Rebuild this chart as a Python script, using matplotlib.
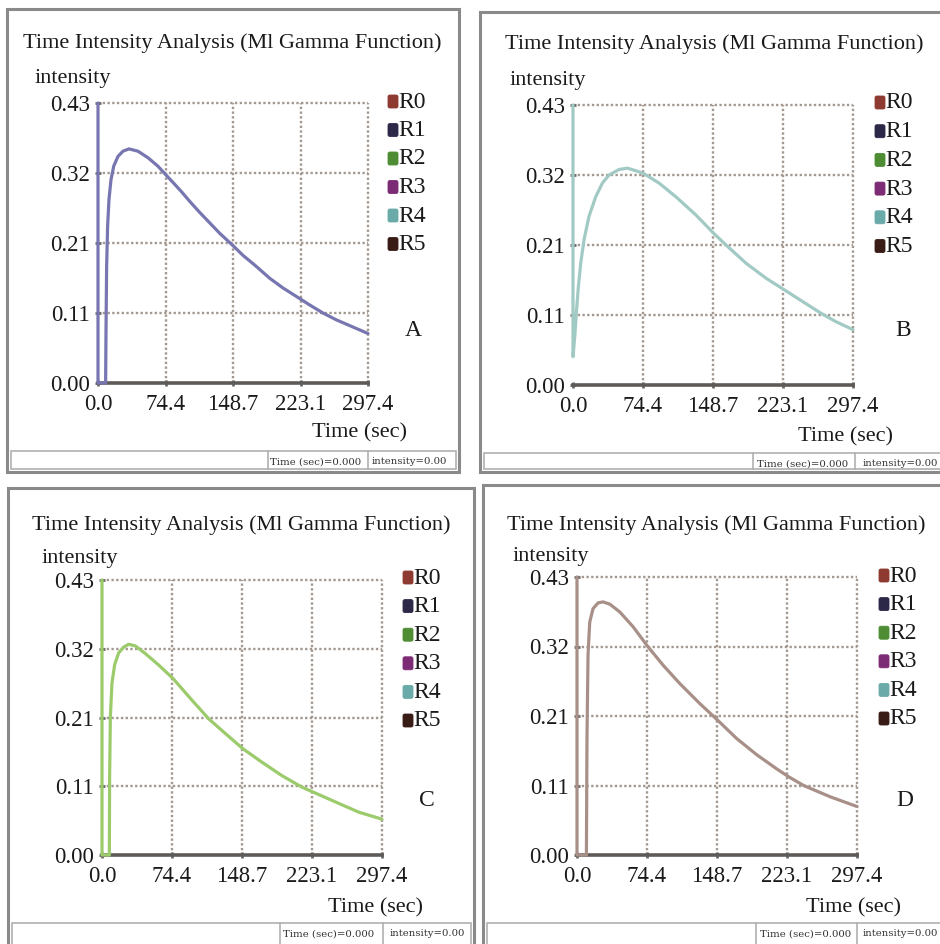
import matplotlib
matplotlib.use("Agg")
import matplotlib.pyplot as plt
from matplotlib.patches import Rectangle, FancyBboxPatch
import numpy as np

W, H = 940, 944

# ---------------- data ----------------
title = "Time Intensity Analysis (Ml Gamma Function)"
y_label = "intensity"
x_label = "Time (sec)"
x_tick_labels = ["0.0", "74.4", "148.7", "223.1", "297.4"]
y_tick_labels = ["0.00", "0.11", "0.21", "0.32", "0.43"]
x_max = 297.4
y_max = 0.43
legend_names = ["R0", "R1", "R2", "R3", "R4", "R5"]
legend_colors = ["#8e3a30", "#2c2848", "#4f8d34", "#7c2c74", "#6aaaa8", "#3a1c16"]
status_texts = ["Time (sec)=0.000", "intensity=0.00"]
panel_letters = ["A", "B", "C", "D"]

time_A = [0, 0, 8.4, 8.8, 9.5, 10.6, 12.1, 14.3, 17.3, 22, 27.5, 34.1, 44, 55, 66, 74.5,
          82.6, 91.8, 101, 112, 123, 134, 149.4, 159.7, 174.4, 189, 203.7, 218.4, 233,
          247.8, 262.5, 280.8, 297.4]
intensity_A = [0.43, 0, 0, 0.077, 0.179, 0.241, 0.282, 0.312, 0.333, 0.348, 0.356, 0.3595,
               0.356, 0.346, 0.333, 0.320, 0.308, 0.294, 0.279, 0.262, 0.246, 0.230,
               0.210, 0.196, 0.179, 0.161, 0.146, 0.133, 0.120, 0.1075, 0.097, 0.086,
               0.076]

time_B = [0, 0, 1, 2.1, 3.5, 5.7, 8.2, 11.7, 17, 24.1, 31.2, 38.3, 49, 57.8, 66.7, 74.9,
          91.5, 109.3, 130.6, 149.4, 162.5, 183.8, 205, 224.6, 244.1, 263.6, 279.6, 297.4]
intensity_B = [0.43, 0.0435, 0.06, 0.079, 0.110, 0.151, 0.187, 0.223, 0.259, 0.289, 0.310,
               0.3225, 0.331, 0.333, 0.329, 0.325, 0.310, 0.289, 0.261, 0.233, 0.215,
               0.187, 0.164, 0.146, 0.128, 0.110, 0.097, 0.085]

time_C = [0, 0, 7.8, 8.1, 8.9, 10.6, 13.5, 17.7, 23, 28.3, 35.4, 46, 60.2, 75.4, 95.6,
          113.3, 131, 149.8, 170, 191.2, 212.5, 224.9, 247.9, 272.7, 297.4]
intensity_C = [0.43, 0, 0, 0.123, 0.217, 0.269, 0.298, 0.316, 0.325, 0.3295, 0.327, 0.315,
               0.297, 0.276, 0.242, 0.213, 0.190, 0.166, 0.145, 0.124, 0.106, 0.098,
               0.083, 0.067, 0.056]

time_D = [0, 0, 10, 10.6, 11.7, 13.5, 17, 22.4, 27.7, 34.8, 45.4, 59.6, 74.9, 91.5, 109.3,
          130.6, 149.4, 169.7, 191, 212.3, 224.8, 240.7, 269, 297.4]
intensity_D = [0.43, 0, 0, 0.180, 0.309, 0.360, 0.381, 0.390, 0.3915, 0.388, 0.376, 0.353,
               0.323, 0.2935, 0.265, 0.234, 0.2085, 0.180, 0.155, 0.133, 0.121, 0.1075,
               0.090, 0.075]

curve_colors = ["#7876b0", "#a2cac4", "#9ccb6c", "#a89088"]

# ---------------- layout (pixels) ----------------
panels = [
    dict(t=time_A, y=intensity_A, frame=(7, 9, 459, 472), ax=(98, 103, 368, 383),
         title=(232, 43), ylab=(35, 78), leg=(388, 102, 28.5), letter=(413, 330),
         xlab=(360, 433), status_top=451, status=(270, 372), div=(268, 368)),
    dict(t=time_B, y=intensity_B, frame=(480, 12, 960, 472), ax=(573, 105, 853, 385),
         title=(714, 44), ylab=(510, 81), leg=(875, 103, 28.7), letter=(903, 330),
         xlab=(845, 437), status_top=453, status=(757, 863), div=(753, 855)),
    dict(t=time_C, y=intensity_C, frame=(8, 488, 474, 960), ax=(102, 580, 382, 855),
         title=(241, 525), ylab=(42, 559), leg=(403, 578, 28.6), letter=(427, 800),
         xlab=(375, 908), status_top=923, status=(283, 390), div=(280, 383)),
    dict(t=time_D, y=intensity_D, frame=(483, 485, 960, 960), ax=(577, 577, 857, 855),
         title=(716, 525), ylab=(513, 557), leg=(879, 576, 28.6), letter=(905, 800),
         xlab=(853, 908), status_top=923, status=(760, 863), div=(756, 857)),
]

SERIF = ["Liberation Serif", "DejaVu Serif"]
plt.rcParams["font.family"] = SERIF

fig = plt.figure(figsize=(W / 100, H / 100), dpi=100)
fig.patch.set_facecolor("white")


def fx(x):
    return x / W


def fy(y):
    return 1 - y / H


def prect(x0, y0, x1, y1, **kw):
    r = Rectangle((fx(x0), fy(y1)), fx(x1) - fx(x0), fy(y0) - fy(y1),
                  transform=fig.transFigure, **kw)
    fig.patches.append(r)
    return r


grid_color = "#a39990"

for i, p in enumerate(panels):
    x0, y0, x1, y1 = p["frame"]
    # outer frame
    prect(x0, y0, x1, y1, facecolor="white", edgecolor="#8a8a8a", lw=2.2, zorder=-2)
    # status bar
    prect(x0 + 4, p["status_top"], x1 - 3, y1 - 3, facecolor="white",
          edgecolor="#b0b0b0", lw=1.2, zorder=-1)
    for dx in p["div"]:
        fig.add_artist(plt.Line2D([fx(dx), fx(dx)], [fy(p["status_top"]), fy(y1 - 3)],
                                  transform=fig.transFigure, color="#b0b0b0", lw=1.2))
    for k in range(2):
        fig.text(fx(p["status"][k]), fy(p["status_top"] + 11), status_texts[k],
                 fontsize=7.3, va="center", ha="left", color="#333333",
                 family=["DejaVu Serif"])

    # title and labels
    fig.text(fx(p["title"][0]), fy(p["title"][1]), title, fontsize=16,
             ha="center", va="center", color="#1a1a1a")
    fig.text(fx(p["ylab"][0]), fy(p["ylab"][1]), y_label, fontsize=16,
             ha="left", va="center", color="#1a1a1a")
    fig.text(fx(p["xlab"][0]), fy(p["xlab"][1]), x_label, fontsize=16,
             ha="center", va="center", color="#1a1a1a")
    fig.text(fx(p["letter"][0]), fy(p["letter"][1]), panel_letters[i], fontsize=17,
             ha="center", va="center", color="#1a1a1a")

    # legend
    lx, ly, dy = p["leg"]
    for k, (nm, col) in enumerate(zip(legend_names, legend_colors)):
        cy = ly + k * dy
        sq = FancyBboxPatch((fx(lx), fy(cy + 6)), fx(10), fy(0) - fy(13),
                            boxstyle="round,pad=0,rounding_size=0.002",
                            transform=fig.transFigure, facecolor=col,
                            edgecolor=col, lw=0.6)
        fig.patches.append(sq)
        fig.text(fx(lx + 10.5), fy(cy), nm, fontsize=17, ha="left", va="center",
                 color="#1a1a1a")

    # axes
    ax0, ay0, ax1, ay1 = p["ax"]
    ax = fig.add_axes([fx(ax0), fy(ay1), fx(ax1) - fx(ax0), fy(ay0) - fy(ay1)])
    ax.set_zorder(5)
    ax.set_facecolor("none")
    ax.set_xlim(0, x_max)
    ax.set_ylim(0, y_max)
    xt = np.linspace(0, x_max, len(x_tick_labels))
    yt = np.linspace(0, y_max, len(y_tick_labels))
    ax.set_xticks(xt)
    ax.set_xticklabels(x_tick_labels)
    ax.set_yticks(yt)
    ax.set_yticklabels(y_tick_labels)
    ax.tick_params(axis="both", length=4, width=2, color="#6a6a6a", direction="inout",
                   labelsize=16.4, labelcolor="#1a1a1a")
    ax.tick_params(axis="x", pad=6)
    ax.tick_params(axis="y", pad=4)
    for s in ax.spines.values():
        s.set_visible(False)
    # dotted grid, including top and right borders
    for v in xt[1:]:
        ax.axvline(v, color=grid_color, lw=1.7, ls=(0, (1, 1)), zorder=1, clip_on=False)
    for v in yt[1:]:
        ax.axhline(v, color=grid_color, lw=1.7, ls=(0, (1, 1)), zorder=1, clip_on=False)
    # bottom axis line
    ax.axhline(0, color="#5e5a58", lw=2.6, zorder=2, clip_on=False)
    # curve
    ax.plot(p["t"], p["y"], color=curve_colors[i], lw=2.3, zorder=3, clip_on=False,
            solid_joinstyle="round", solid_capstyle="round")

fig.savefig("out.png", dpi=100, facecolor="white")
